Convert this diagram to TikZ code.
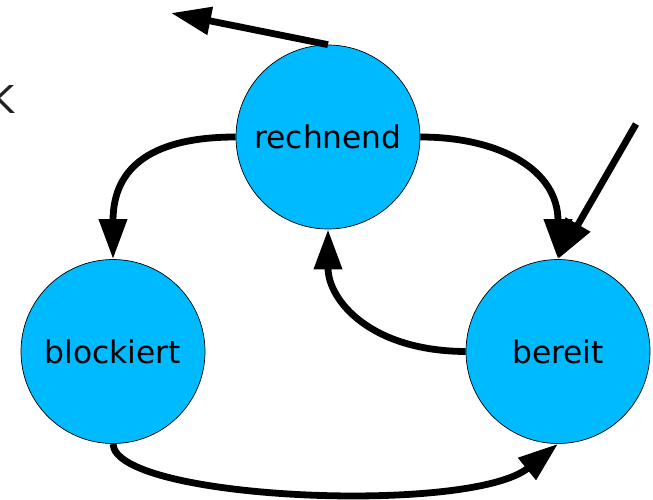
\documentclass[tikz,border=0pt]{standalone}
\usepackage{fontspec}
\setmainfont{DejaVu Sans}
\usetikzlibrary{arrows.meta}
\definecolor{statefill}{HTML}{00BAFF}
\definecolor{tagtext}{HTML}{222222}
\tikzset{
  state/.style={circle, draw=black, line width=0.7pt, fill=statefill,
    minimum size=184pt, inner sep=0pt,
    font=\fontsize{31.3}{36}\selectfont},
  trans/.style={line width=6.8pt, -{Triangle[length=40pt,width=27pt]}},
}
\begin{document}
\begin{tikzpicture}[x=1pt, y=-1pt]
  \useasboundingbox (0,0) rectangle (653,499);

  % cut-off letter on the left margin
  \node[anchor=base west, inner sep=0pt, text=tagtext,
        font=\fontsize{38.4}{44}\selectfont] (tag) at (-10.5,113) {K};

  % the three process states
  \node[state] (r)  at (328,137)   {rechnend};
  \node[state] (b)  at (113,351.5) {blockiert};
  \node[state] (be) at (558,351.5) {bereit};

  % free ends of the outgoing and incoming arrows
  \coordinate (out) at (171,13);
  \coordinate (in)  at (636,124);

  % transitions
  \draw[trans] (r.north) -- (out);
  \draw[trans] (r.west) .. controls (155,137) and (113,165) .. (b.north);
  \draw[trans] (r.east) .. controls (500,137) and (558,170) .. (be.north);
  \draw[trans] (in) -- (be.north);
  \draw[trans] (be.west) .. controls (370,351) and (328,300) .. (r.south);
  \draw[trans] (b.south) .. controls (115,500) and (470,515) .. (be.south);
\end{tikzpicture}
\end{document}
